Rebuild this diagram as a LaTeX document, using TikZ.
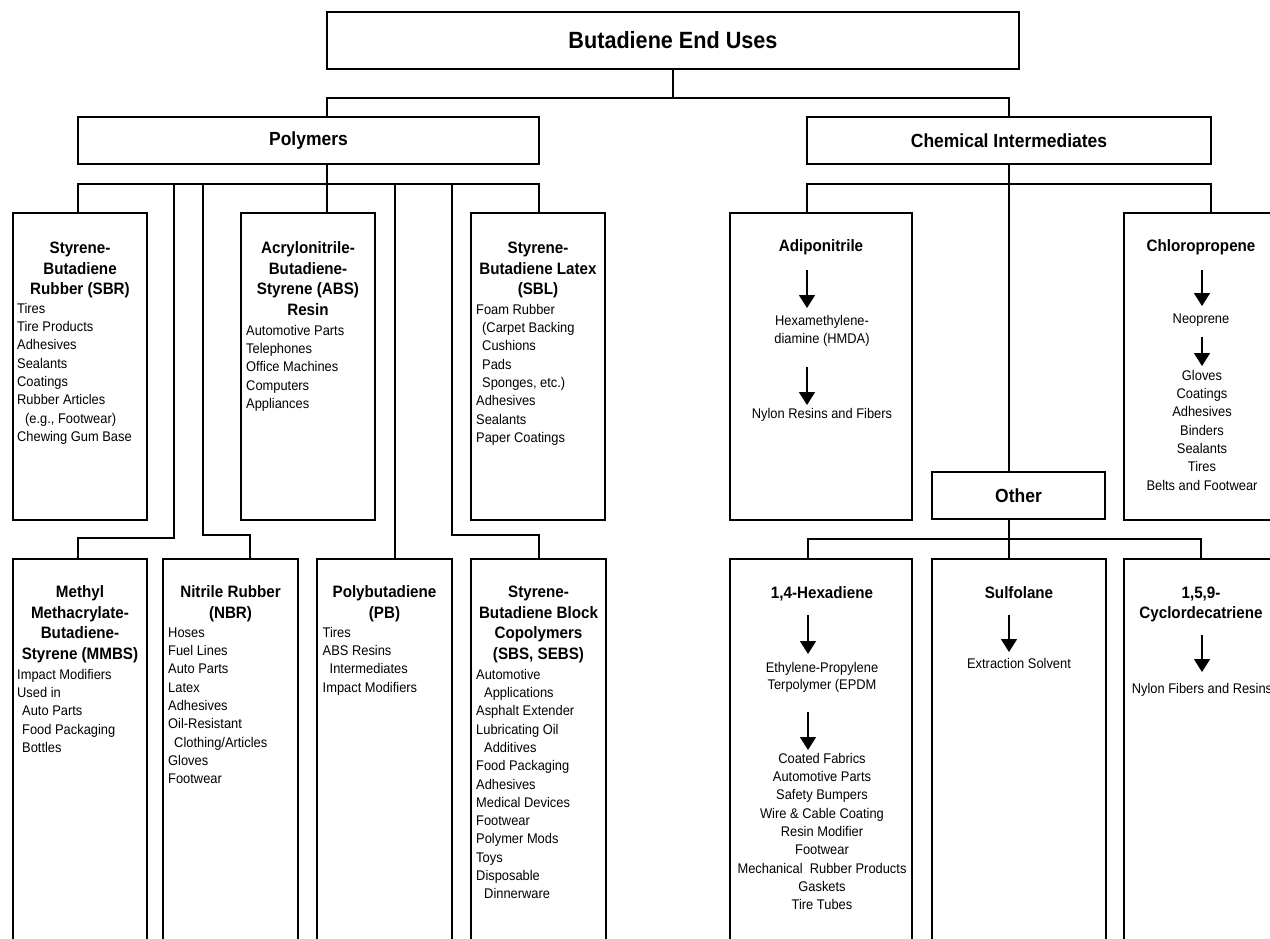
\documentclass[tikz,border=0pt]{standalone}
\usepackage{fontspec}
\setmainfont{Liberation Sans}[FakeStretch=0.92]
\usetikzlibrary{arrows.meta}
\newcommand\bodyfnt{\fontsize{14}{18.3}\selectfont}
\newcommand\hdrfnt{\fontsize{16.5}{20.8}\selectfont\bfseries}
\newcommand\lonefnt{\fontsize{19}{23}\selectfont\bfseries}
\newcommand\ttlfnt{\fontsize{23.5}{28}\selectfont\bfseries}
\newcommand\myhs{\rule{0pt}{14pt}}
\newcommand\mybs{\rule{0pt}{12pt}}
\begin{document}
\begin{tikzpicture}[x=1pt,y=-1pt,
  box/.style={draw,line width=2pt,inner sep=0pt,outer sep=0pt,anchor=north west},
  conn/.style={line width=2pt},
  arr/.style={line width=1.6pt,-{Triangle[length=13pt,width=16pt]}},
  hdr/.style={font=\hdrfnt,align=center,inner sep=0pt,anchor=north},
  lst/.style={font=\bodyfnt,align=left,inner sep=0pt,anchor=north west},
  clst/.style={font=\bodyfnt,align=center,inner sep=0pt,anchor=north}]
\useasboundingbox (0,0) rectangle (1270,938);
\clip (0,0) rectangle (1270,938);
\fill[white] (0,0) rectangle (1270,938);

% ---------- boxes ----------
\node[box,minimum width=692pt,minimum height=57pt,font=\ttlfnt] (title) at (327,12) {Butadiene End Uses};
\node[box,minimum width=461pt,minimum height=47pt,font=\lonefnt] (poly) at (78,117) {Polymers};
\node[box,minimum width=404pt,minimum height=47pt,font=\lonefnt] (chem) at (807,117) {Chemical Intermediates};

\node[box,minimum width=134pt,minimum height=307pt] (sbr) at (13,213) {};
\node[box,minimum width=134pt,minimum height=307pt] (abs) at (241,213) {};
\node[box,minimum width=134pt,minimum height=307pt] (sbl) at (471,213) {};
\node[box,minimum width=182pt,minimum height=307pt] (adi) at (730,213) {};
\node[box,minimum width=170pt,minimum height=307pt] (chl) at (1124,213) {};
\node[box,minimum width=173pt,minimum height=47pt,font=\lonefnt] (oth) at (932,472) {Other};

\node[box,minimum width=134pt,minimum height=400pt] (mmbs) at (13,559) {};
\node[box,minimum width=135pt,minimum height=400pt] (nbr) at (163,559) {};
\node[box,minimum width=135pt,minimum height=400pt] (pb) at (317,559) {};
\node[box,minimum width=135pt,minimum height=400pt] (sbs) at (471,559) {};
\node[box,minimum width=182pt,minimum height=400pt] (hex) at (730,559) {};
\node[box,minimum width=174pt,minimum height=400pt] (sul) at (932,559) {};
\node[box,minimum width=170pt,minimum height=400pt] (cyc) at (1124,559) {};

% ---------- junction coordinates ----------
\coordinate (t0) at (673,98);
\coordinate (pIn) at (327,117);
\coordinate (cIn) at (1009,117);
\coordinate (h2) at (327,184);
\coordinate (sbrIn) at (78,213);
\coordinate (absIn) at (327,213);
\coordinate (sblIn) at (539,213);
\coordinate (mA) at (174,184);
\coordinate (mB) at (174,538);
\coordinate (mmbsIn) at (78,559);
\coordinate (nA) at (203,184);
\coordinate (nB) at (203,535);
\coordinate (nbrIn) at (250,559);
\coordinate (pbA) at (395,184);
\coordinate (pbIn) at (395,559);
\coordinate (sA) at (452,184);
\coordinate (sB) at (452,535);
\coordinate (sbsIn) at (539,559);
\coordinate (h3) at (1009,184);
\coordinate (adiIn) at (807,213);
\coordinate (chlIn) at (1211,213);
\coordinate (oIn) at (1009,472);
\coordinate (oOut) at (1009,519);
\coordinate (h4) at (1009,539);
\coordinate (hexIn) at (808,559);
\coordinate (sulIn) at (1009,559);
\coordinate (cycIn) at (1201,559);

% ---------- connectors ----------
\draw[conn] (title.south) -- (t0);
\draw[conn] (pIn) |- (t0) -| (cIn);
\draw[conn] (poly.south -| absIn) -- (absIn);
\draw[conn] (sbrIn) |- (h2) -| (sblIn);
\draw[conn] (mA) -- (mB) -| (mmbsIn);
\draw[conn] (nA) -- (nB) -| (nbrIn);
\draw[conn] (pbA) -- (pbIn);
\draw[conn] (sA) -- (sB) -| (sbsIn);
\draw[conn] (chem.south -| h3) -- (oIn);
\draw[conn] (adiIn) |- (h3) -| (chlIn);
\draw[conn] (oOut) -- (sulIn);
\draw[conn] (hexIn) |- (h4) -| (cycIn);

% ---------- polymer texts ----------
\node[hdr] (sbrH) at (80,239) {\myhs Styrene-\\Butadiene\\Rubber (SBR)};
\node[lst] (sbrL) at (17,301) {\mybs Tires\\Tire Products\\Adhesives\\Sealants\\Coatings\\Rubber Articles\\\hspace*{8pt}(e.g., Footwear)\\Chewing Gum Base};

\node[hdr] (absH) at (308,239) {\myhs Acrylonitrile-\\Butadiene-\\Styrene (ABS)\\Resin};
\node[lst] (absL) at (246,323) {\mybs Automotive Parts\\Telephones\\Office Machines\\Computers\\Appliances};

\node[hdr] (sblH) at (538,239) {\myhs Styrene-\\Butadiene Latex\\(SBL)};
\node[lst] (sblL) at (476,302) {\mybs Foam Rubber\\\hspace*{6pt}(Carpet Backing\\\hspace*{6pt}Cushions\\\hspace*{6pt}Pads\\\hspace*{6pt}Sponges, etc.)\\Adhesives\\Sealants\\Paper Coatings};

\node[hdr] (mmbsH) at (80,583) {\myhs Methyl\\Methacrylate-\\Butadiene-\\Styrene (MMBS)};
\node[lst] (mmbsL) at (17,667) {\mybs Impact Modifiers\\Used in\\\hspace*{5pt}Auto Parts\\\hspace*{5pt}Food Packaging\\\hspace*{5pt}Bottles};

\node[hdr] (nbrH) at (230.5,583) {\myhs Nitrile Rubber\\(NBR)};
\node[lst] (nbrL) at (168,625) {\mybs Hoses\\Fuel Lines\\Auto Parts\\Latex\\Adhesives\\Oil-Resistant\\\hspace*{6pt}Clothing/Articles\\Gloves\\Footwear};

\node[hdr] (pbH) at (384.5,583) {\myhs Polybutadiene\\(PB)};
\node[lst] (pbL) at (322.5,625) {\mybs Tires\\ABS Resins\\\hspace*{7pt}Intermediates\\Impact Modifiers};

\node[hdr] (sbsH) at (538.5,583) {\myhs Styrene-\\Butadiene Block\\Copolymers\\(SBS, SEBS)};
\node[lst] (sbsL) at (476,667) {\mybs Automotive\\\hspace*{8pt}Applications\\Asphalt Extender\\Lubricating Oil\\\hspace*{8pt}Additives\\Food Packaging\\Adhesives\\Medical Devices\\Footwear\\Polymer Mods\\Toys\\Disposable\\\hspace*{8pt}Dinnerware};

% ---------- chemical intermediate texts ----------
\node[hdr] (adiH) at (821,237) {\myhs Adiponitrile};
\coordinate (a1s) at (807,270); \coordinate (a1e) at (807,308);
\draw[arr] (a1s) -- (a1e);
\node[clst] (adiM) at (822,313) {\mybs Hexamethylene-\\diamine (HMDA)};
\coordinate (a2s) at (807,367); \coordinate (a2e) at (807,405);
\draw[arr] (a2s) -- (a2e);
\node[clst] (adiL) at (822,406) {\mybs Nylon Resins and Fibers};

\node[hdr] (chlH) at (1201,237) {\myhs Chloropropene};
\coordinate (a3s) at (1202,270); \coordinate (a3e) at (1202,306);
\draw[arr] (a3s) -- (a3e);
\node[clst] (chlM) at (1201,311) {\mybs Neoprene};
\coordinate (a4s) at (1202,337); \coordinate (a4e) at (1202,366);
\draw[arr] (a4s) -- (a4e);
\node[clst] (chlL) at (1202,368) {\mybs Gloves\\Coatings\\Adhesives\\Binders\\Sealants\\Tires\\Belts and Footwear};

\node[hdr] (hexH) at (822,584) {\myhs 1,4-Hexadiene};
\coordinate (a5s) at (808,615); \coordinate (a5e) at (808,654);
\draw[arr] (a5s) -- (a5e);
\node[clst,font=\fontsize{14}{17}\selectfont] (hexM) at (822,660) {\mybs Ethylene-Propylene\\Terpolymer (EPDM};
\coordinate (a6s) at (808,712); \coordinate (a6e) at (808,750);
\draw[arr] (a6s) -- (a6e);
\node[clst] (hexL) at (822,751) {\mybs Coated Fabrics\\Automotive Parts\\Safety Bumpers\\Wire \& Cable Coating\\Resin Modifier\\Footwear\\Mechanical\ \ Rubber Products\\Gaskets\\Tire Tubes};

\node[hdr] (sulH) at (1019,584) {\myhs Sulfolane};
\coordinate (a7s) at (1009,615); \coordinate (a7e) at (1009,652);
\draw[arr] (a7s) -- (a7e);
\node[clst] (sulL) at (1019,656) {\mybs Extraction Solvent};

\node[hdr,font=\fontsize{16.5}{20}\selectfont\bfseries] (cycH) at (1201,584) {\myhs 1,5,9-\\Cyclordecatriene};
\coordinate (a8s) at (1202,635); \coordinate (a8e) at (1202,672);
\draw[arr] (a8s) -- (a8e);
\node[clst] (cycL) at (1202,681) {\mybs Nylon Fibers and Resins};
\end{tikzpicture}
\end{document}
